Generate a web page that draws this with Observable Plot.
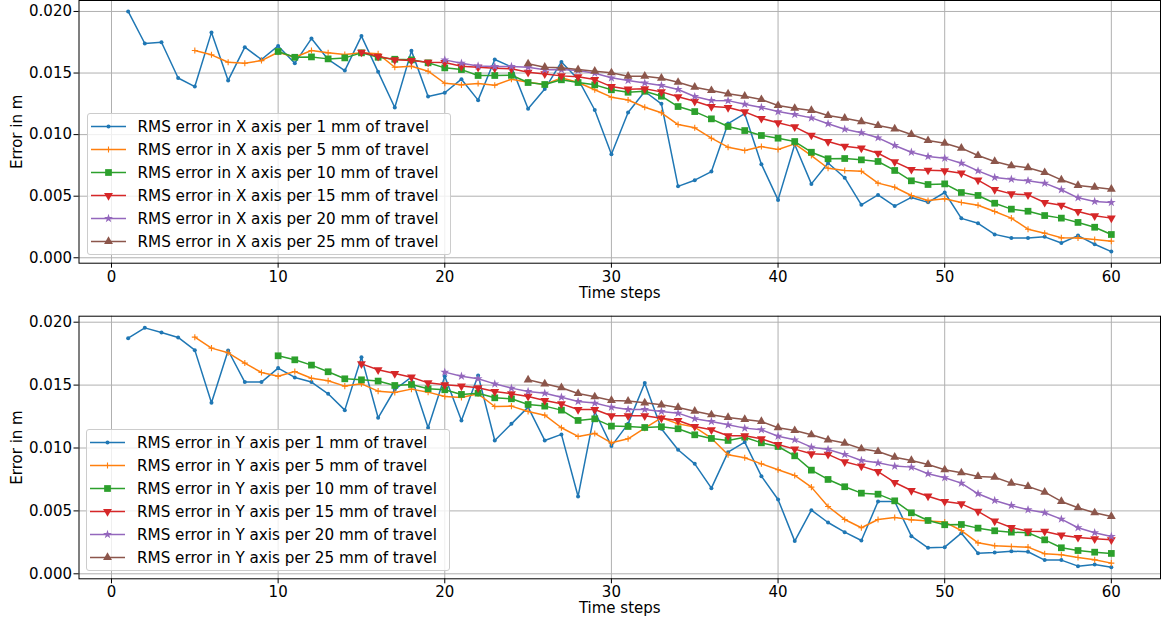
<!DOCTYPE html>
<html><head><meta charset="utf-8">
<script src="https://cdn.jsdelivr.net/npm/d3@7"></script>
<script src="https://cdn.jsdelivr.net/npm/@observablehq/plot@0.6"></script>
<style>
body{margin:0;background:#fff;font-family:"DejaVu Sans",sans-serif;}
#wrap{position:relative;width:1164px;height:624px;overflow:hidden;}
.panel{position:absolute;left:0;width:1164px;height:312px;}
.legend{position:absolute;background:rgba(255,255,255,0.8);border:1px solid #cccccc;border-radius:3px;box-sizing:border-box;width:364px;height:142px;}
.row{position:absolute;left:0;height:23px;display:flex;align-items:center;font-size:15.2px;color:#000;white-space:nowrap;font-family:"DejaVu Sans",sans-serif;}
.row svg{display:block;}
</style></head><body><div id="wrap"></div>
<script>
const startSteps = [1, 5, 10, 15, 20, 25];
const travelMm = [1, 5, 10, 15, 20, 25];
const colors = ["#1f77b4", "#ff7f0e", "#2ca02c", "#d62728", "#9467bd", "#8c564b"];
const xTicks = [0, 10, 20, 30, 40, 50, 60];
const yTicks = [0, 0.005, 0.010, 0.015, 0.020];

// X axis RMS error (m)
const xErr1 = [0.0200,0.0174,0.0175,0.0146,0.0139,0.0183,0.0144,0.0171,0.0161,0.0172,0.0158,0.0178,0.0161,0.0152,0.0180,0.0151,0.0122,0.0168,0.0131,0.0134,0.0145,0.0128,0.0161,0.0155,0.0121,0.0137,0.0159,0.0145,0.0120,0.0084,0.0118,0.0135,0.0125,0.0058,0.0063,0.0070,0.0109,0.0117,0.0076,0.0047,0.0092,0.0060,0.0077,0.0065,0.0043,0.0051,0.0042,0.0049,0.0045,0.0053,0.0032,0.0028,0.0019,0.0016,0.0016,0.0017,0.0012,0.0018,0.0011,0.0005];
const xErr5 = [0.01683,0.01648,0.01588,0.0158,0.01601,0.01669,0.01628,0.01683,0.01664,0.0165,0.01664,0.01656,0.01547,0.01555,0.01515,0.01417,0.01404,0.01415,0.01401,0.0145,0.01425,0.01407,0.01461,0.01423,0.01364,0.01304,0.01281,0.01222,0.01177,0.01082,0.01055,0.00971,0.00898,0.00871,0.00903,0.00879,0.00925,0.0083,0.00727,0.00709,0.00703,0.00606,0.00573,0.00506,0.00465,0.00479,0.00449,0.00427,0.00376,0.00322,0.00232,0.002,0.00162,0.00161,0.00149,0.00135];
const xErr10 = [0.01675,0.01628,0.01631,0.01615,0.01623,0.01664,0.01628,0.01612,0.01607,0.01583,0.01542,0.01528,0.0148,0.0148,0.01482,0.01423,0.01407,0.01445,0.01423,0.01404,0.01364,0.01344,0.01352,0.01312,0.01228,0.01187,0.01128,0.01066,0.01033,0.00993,0.00971,0.00944,0.00857,0.00804,0.00806,0.00795,0.00782,0.00709,0.00625,0.00595,0.006,0.0053,0.00506,0.00443,0.00395,0.00378,0.00343,0.00322,0.00287,0.00248,0.00189];
const xErr15 = [0.01669,0.01636,0.01607,0.01601,0.01588,0.01585,0.01555,0.01547,0.01539,0.01534,0.01506,0.01493,0.01477,0.01469,0.01447,0.0139,0.01369,0.01372,0.01347,0.01307,0.01271,0.01228,0.0122,0.01185,0.01131,0.01096,0.01063,0.00995,0.00944,0.00906,0.0089,0.00849,0.00779,0.00717,0.00711,0.00706,0.00687,0.0063,0.00554,0.00519,0.00511,0.00449,0.00427,0.00376,0.00341,0.00322];
const xErr20 = [0.01607,0.0158,0.01558,0.01553,0.01553,0.01547,0.01526,0.01528,0.0152,0.01498,0.01461,0.01439,0.0142,0.01399,0.01366,0.01309,0.01277,0.01276,0.01247,0.0122,0.01187,0.01163,0.01136,0.01088,0.01044,0.01015,0.00974,0.00912,0.00857,0.00822,0.00809,0.00768,0.00706,0.00652,0.00638,0.00625,0.00606,0.00552,0.00487,0.00457,0.00449];
const xErr25 = [0.01575,0.01547,0.01542,0.01528,0.01515,0.01502,0.01474,0.01474,0.01458,0.01425,0.01385,0.01358,0.01331,0.01312,0.01285,0.01236,0.01214,0.01196,0.01155,0.01133,0.01106,0.01074,0.01047,0.01001,0.00952,0.0093,0.0089,0.0083,0.00782,0.00747,0.00731,0.00692,0.00633,0.00587,0.00573,0.00557];

// Y axis RMS error (m)
const yErr1 = [0.01873,0.01955,0.01918,0.01879,0.01778,0.01359,0.01775,0.01524,0.01524,0.01635,0.01561,0.01524,0.01431,0.01301,0.01722,0.0124,0.01465,0.01563,0.01161,0.01571,0.01219,0.01577,0.0106,0.01192,0.01325,0.0106,0.01108,0.00615,0.0129,0.01015,0.01192,0.01516,0.01153,0.00986,0.00874,0.00681,0.00967,0.01047,0.00776,0.00591,0.0026,0.00506,0.00408,0.00331,0.00265,0.00575,0.00575,0.00299,0.00207,0.00212,0.00323,0.00164,0.0017,0.0018,0.00175,0.00109,0.00109,0.00061,0.00074,0.00053];
const yErr5 = [0.01881,0.01794,0.01757,0.01675,0.016,0.01571,0.01608,0.01555,0.01534,0.01492,0.0151,0.01452,0.01441,0.01468,0.01444,0.0141,0.01402,0.01431,0.0133,0.01333,0.0129,0.01261,0.01161,0.01092,0.01116,0.01041,0.01073,0.01158,0.0124,0.01192,0.01166,0.01078,0.00946,0.00922,0.00874,0.00827,0.00782,0.00689,0.00535,0.00432,0.00366,0.00432,0.00448,0.00429,0.00419,0.00411,0.00344,0.00246,0.00223,0.00217,0.00212,0.00159,0.00151,0.0013,0.00111,0.00085];
const yErr10 = [0.01733,0.01701,0.01659,0.01606,0.0155,0.01542,0.01532,0.01497,0.01505,0.01471,0.01463,0.01426,0.01436,0.01399,0.01391,0.01346,0.01333,0.01301,0.01219,0.01232,0.01174,0.01171,0.01163,0.01169,0.01153,0.01105,0.01076,0.0106,0.01086,0.01041,0.01012,0.00938,0.00824,0.0075,0.00692,0.00641,0.00633,0.0058,0.00485,0.00424,0.0039,0.00392,0.00363,0.00342,0.00331,0.00326,0.0027,0.00207,0.00185,0.00172,0.00162];
const yErr15 = [0.01669,0.01622,0.01592,0.01563,0.01518,0.01502,0.01492,0.01479,0.01449,0.01431,0.0141,0.01378,0.01351,0.01306,0.01306,0.01256,0.01256,0.01256,0.01237,0.01219,0.01171,0.01145,0.01097,0.01097,0.01073,0.01028,0.00991,0.00954,0.00949,0.0089,0.00856,0.00813,0.00726,0.00662,0.00617,0.00575,0.00556,0.00496,0.00419,0.00368,0.00339,0.00337,0.00307,0.00289,0.00278,0.0027];
const yErr20 = [0.01603,0.01571,0.0155,0.0151,0.01476,0.01449,0.01436,0.01404,0.0137,0.01357,0.01325,0.01306,0.01306,0.0129,0.01277,0.01232,0.01211,0.01184,0.01158,0.01145,0.01094,0.01065,0.01007,0.00988,0.00949,0.00901,0.00882,0.00856,0.00848,0.00795,0.00763,0.00721,0.00636,0.00583,0.00543,0.00509,0.00485,0.00435,0.00366,0.00326,0.00297];
const yErr25 = [0.01542,0.0151,0.01479,0.01433,0.01407,0.01378,0.01373,0.01359,0.01343,0.01322,0.01293,0.01264,0.01243,0.01227,0.01211,0.01161,0.01139,0.01105,0.01065,0.01039,0.00994,0.00972,0.00927,0.00901,0.00869,0.00827,0.00803,0.00774,0.00768,0.00721,0.00694,0.00649,0.00575,0.00525,0.00485,0.00456];

const symbolSpecs = [
  {symbol: "circle", r: 2, filled: true, rotate: 0, d3type: d3.symbolCircle},
  {symbol: "plus", r: 2.1, filled: false, rotate: 0, d3type: d3.symbolPlus},
  {symbol: "square", r: 3.8, filled: true, rotate: 0, d3type: d3.symbolSquare},
  {symbol: "triangle", r: 3.3, filled: true, rotate: 180, d3type: d3.symbolTriangle},
  {symbol: "star", r: 2.8, filled: true, rotate: 0, d3type: d3.symbolStar},
  {symbol: "triangle", r: 3.3, filled: true, rotate: 0, d3type: d3.symbolTriangle}
];

function dotOptions(s) {
  const sp = symbolSpecs[s];
  const o = {x: "step", y: "err", symbol: sp.symbol, r: sp.r};
  if (sp.filled) { o.fill = colors[s]; o.stroke = "none"; }
  else { o.fill = "none"; o.stroke = colors[s]; o.strokeWidth = 1.1; }
  if (sp.rotate) o.rotate = sp.rotate;
  return o;
}

function buildPanel(seriesValues, cfg) {
  const marks = [
    Plot.gridX({ticks: xTicks, stroke: "#b0b0b0", strokeOpacity: 1, strokeWidth: 1}),
    Plot.gridY({ticks: yTicks, stroke: "#b0b0b0", strokeOpacity: 1, strokeWidth: 1})
  ];
  seriesValues.forEach((vals, s) => {
    const rows = vals.map((v, i) => ({step: startSteps[s] + i, err: v}));
    marks.push(Plot.line(rows, {x: "step", y: "err", stroke: colors[s], strokeWidth: 1.5}));
    marks.push(Plot.dot(rows, dotOptions(s)));
  });
  marks.push(Plot.frame({stroke: "#000", strokeWidth: 1}));
  marks.push(Plot.axisX({ticks: xTicks, tickSize: 5, tickPadding: 3, fontSize: 15, label: null}));
  marks.push(Plot.axisY({ticks: yTicks, tickSize: 5, tickPadding: 2, tickFormat: d3.format(".3f"), fontSize: 15, label: null}));
  marks.push(Plot.text(["Time steps"], {frameAnchor: "bottom", text: d => d, dy: cfg.xlabDy, fontSize: 15, lineAnchor: "middle", textAnchor: "middle"}));
  marks.push(Plot.text(["Error in m"], {frameAnchor: "left", text: d => d, dx: -61.5, rotate: -90, fontSize: 15, lineAnchor: "middle", textAnchor: "middle"}));
  return Plot.plot({
    width: 1164, height: 312,
    marginLeft: 78.5, marginRight: 4, marginTop: cfg.mt, marginBottom: cfg.mb,
    x: {domain: [-1.95, 62.95]},
    y: {domain: cfg.yDomain},
    style: {fontFamily: "DejaVu Sans, sans-serif", fontSize: "15px", background: "white", color: "black", overflow: "visible"},
    marks
  });
}

function buildLegend(axisName, left, top) {
  const div = document.createElement("div");
  div.className = "legend";
  div.style.left = left + "px";
  div.style.top = top + "px";
  travelMm.forEach((mm, s) => {
    const row = document.createElement("div");
    row.className = "row";
    row.style.top = (1 + s * 23) + "px";
    const sp = symbolSpecs[s];
    const svg = d3.create("svg").attr("width", 50).attr("height", 23);
    svg.append("line").attr("x1", 3).attr("x2", 38).attr("y1", 11.5).attr("y2", 11.5)
      .attr("stroke", colors[s]).attr("stroke-width", 1.5);
    const path = d3.symbol().type(sp.d3type).size(Math.PI * sp.r * sp.r)();
    svg.append("path").attr("d", path)
      .attr("transform", `translate(20.5,11.5) rotate(${sp.rotate})`)
      .attr("fill", sp.filled ? colors[s] : "none")
      .attr("stroke", sp.filled ? "none" : colors[s])
      .attr("stroke-width", 1.1);
    row.appendChild(svg.node());
    const span = document.createElement("span");
    span.textContent = `RMS error in ${axisName} axis per ${mm} mm of travel`;
    row.appendChild(span);
    div.appendChild(row);
  });
  return div;
}

const wrap = document.getElementById("wrap");

const p1 = document.createElement("div");
p1.className = "panel"; p1.style.top = "0px";
p1.appendChild(buildPanel([xErr1, xErr5, xErr10, xErr15, xErr20, xErr25],
  {mt: 0, mb: 49.3, yDomain: [-0.00044, 0.02089], xlabDy: 30.3}));
p1.appendChild(buildLegend("X", 86.5, 113.3));
wrap.appendChild(p1);

const p2 = document.createElement("div");
p2.className = "panel"; p2.style.top = "312px";
p2.appendChild(buildPanel([yErr1, yErr5, yErr10, yErr15, yErr20, yErr25],
  {mt: 3.7, mb: 45.7, yDomain: [-0.000397, 0.020477], xlabDy: 29.7}));
p2.appendChild(buildLegend("Y", 86, 117));
wrap.appendChild(p2);
</script></body></html>
